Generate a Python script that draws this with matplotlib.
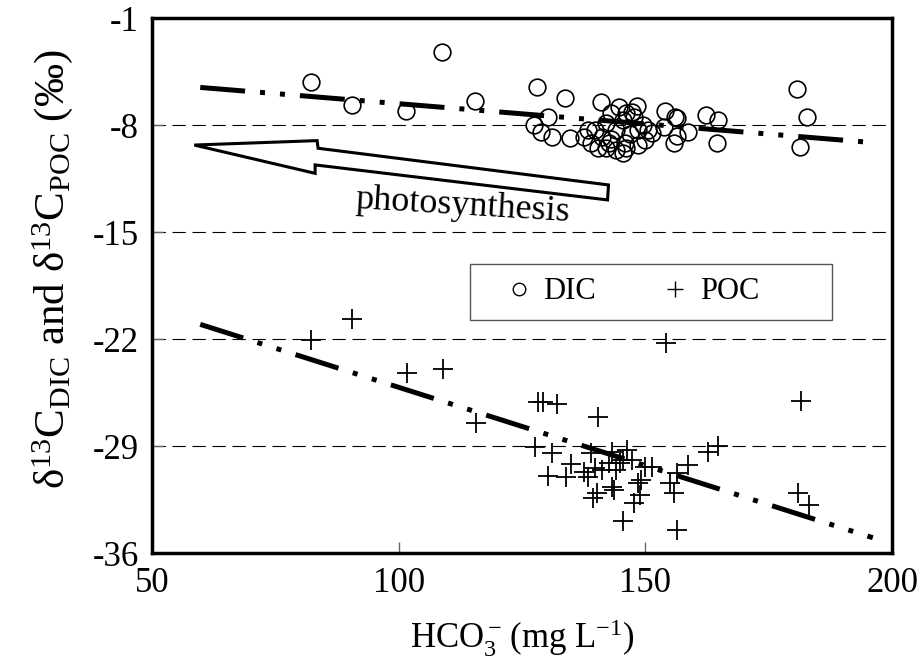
import matplotlib
matplotlib.use("Agg")
import matplotlib.pyplot as plt
from matplotlib.lines import Line2D
from matplotlib.patches import Polygon, Rectangle

plt.rcParams['font.family'] = ['Liberation Serif', 'DejaVu Serif']
plt.rcParams['mathtext.fontset'] = 'custom'
plt.rcParams['mathtext.rm'] = 'Liberation Serif'
plt.rcParams['mathtext.it'] = 'Liberation Serif:italic'
plt.rcParams['axes.unicode_minus'] = False

# DIC (open circles)
dic_x = [82.2, 90.4, 101.4, 108.7, 115.4, 128.0, 133.7, 141.0, 144.6, 148.2,
         146.1, 154.0, 155.9, 162.2, 164.7, 180.7, 182.8, 181.4, 164.5,
         127.4, 128.8, 131.0, 130.3, 134.6, 137.5, 139.0, 139.7, 141.1, 142.6,
         140.4, 144.0, 145.5, 145.9, 144.0, 145.5, 147.7, 148.4, 148.4, 149.5,
         151.3, 153.8, 156.4, 155.7, 158.6, 156.4, 141.9, 138.3, 143.0, 147.3,
         149.9, 146.0, 143.0, 146.8, 142.0, 150.5]
dic_y = [-5.17, -6.69, -7.08, -3.24, -6.43, -5.49, -6.25, -6.51, -6.84, -6.76,
         -7.19, -7.08, -7.5, -7.34, -7.67, -5.66, -7.5, -9.42, -9.2,
         -8.0, -8.43, -8.76, -7.5, -8.87, -8.76, -9.2, -8.32, -8.76, -9.2,
         -9.52, -9.63, -9.85, -9.2, -8.32, -7.67, -7.45, -8.32, -9.3, -8.0,
         -8.54, -8.1, -7.56, -9.2, -8.43, -8.72, -7.89, -8.32, -7.23, -7.13,
         -8.98, -9.52, -8.9, -8.6, -9.5, -8.3]

# POC (plus signs)
poc_x = [82.2, 90.4, 101.6, 108.9, 154.1, 128.1, 129.2, 132.0, 140.4, 115.6,
         181.6, 127.5, 131.0, 134.8, 130.3, 133.9, 138.3, 139.0, 143.3, 146.2,
         140.1, 139.3, 143.7, 147.7, 148.8, 145.5, 156.4, 155.7, 154.9, 156.4,
         158.6, 162.6, 164.7, 181.0, 183.1, 149.1, 149.9, 151.3, 147.3, 139.7,
         141.1, 144.0, 142.6, 144.8, 145.5, 143.3, 137.5, 148.4]
poc_y = [-22.06, -20.7, -24.2, -23.98, -22.28, -26.1, -26.1, -26.25, -27.1, -27.5,
         -26.03, -29.04, -29.43, -30.2, -30.93, -31.0, -31.0, -29.47, -29.37, -29.25,
         -32.1, -32.4, -31.87, -32.74, -32.2, -33.88, -34.5, -32.1, -31.43, -30.78,
         -30.23, -29.37, -28.99, -32.1, -32.85, -31.2, -30.34, -30.34, -29.9, -30.45,
         -30.56, -30.56, -30.12, -30.12, -29.9, -31.65, -30.67, -31.43]

# trend lines (end points)
dic_fit_x = [59.7, 196.1]
dic_fit_y = [-5.54, -9.15]
poc_fit_x = [59.7, 196.1]
poc_fit_y = [-21.04, -35.0]

x_ticks = [50, 100, 150, 200]
y_ticks = [-36, -29, -22, -15, -8, -1]

fig = plt.figure(figsize=(9.22, 6.7), dpi=100)
ax = fig.add_axes([0.1653, 0.1746, 0.8022, 0.7985])

dashdot2 = (0, (9, 3, 1, 3, 1, 3))
for yv in [-8, -15, -22, -29]:
    ax.axhline(yv, color='black', lw=0.8, ls=(0, (12, 6)), zorder=1)

ax.plot(dic_fit_x, dic_fit_y, color='black', lw=3.6, ls=dashdot2, zorder=3)
ax.plot(poc_fit_x, poc_fit_y, color='black', lw=3.6, ls=dashdot2, zorder=3)

ax.plot(dic_x, dic_y, ls='none', marker='o', ms=12, mfc='none', mec='black', mew=1.2, zorder=2)
ax.plot(poc_x, poc_y, ls='none', marker='+', ms=14, mec='black', mew=1.3, zorder=2)

# photosynthesis arrow
arrow_pts = [(58.5, -9.31), (83.4, -9.02), (83.6, -9.52), (142.5, -11.92),
             (142.3, -12.9), (83.0, -10.61), (83.0, -11.16)]
ax.add_patch(Polygon(arrow_pts, closed=True, facecolor='white', edgecolor='black', lw=2.2, zorder=4))
ax.text(112.9, -13.3, 'photosynthesis', fontsize=26, rotation=-3.5, ha='center', va='center', zorder=5)

# legend box (fixed frame, excel style) + entries
ax.add_patch(Rectangle((0.429, 0.4355), 0.49, 0.1045, transform=ax.transAxes,
                       facecolor='white', edgecolor='#555555', lw=1.0, zorder=5))
handles = [Line2D([], [], ls='none', marker='o', ms=9, mfc='none', mec='black', mew=1.0),
           Line2D([], [], ls='none', marker='+', ms=12, mec='black', mew=1.0)]
leg = ax.legend(handles, ['DIC', 'POC'], ncol=2, loc='center left',
                bbox_to_anchor=(0.4747, 0.488), borderaxespad=0, borderpad=0,
                fontsize=22, frameon=False,
                handlelength=1.0, handletextpad=0.3, columnspacing=2.1)
leg.set_zorder(6)

ax.set_xlim(50, 200)
ax.set_ylim(-36, -1)
ax.set_xticks(x_ticks)
ax.set_yticks(y_ticks)
ax.tick_params(direction='in', length=8, width=1.0, color='#666666', labelsize=25, pad=10,
               top=False, right=False)
for sp in ax.spines.values():
    sp.set_linewidth(2.5)

ax.set_xlabel('HCO$_3^-$$\\,$(mg L$^{-1}$)', fontsize=25, labelpad=13)
ax.set_ylabel('δ$^{13}$C$_{\\rm DIC}$ and δ$^{13}$C$_{\\rm POC}$ (‰)', fontsize=31)
ax.yaxis.set_label_coords(-0.105, 0.53)

fig.savefig('out.png', dpi=100)
